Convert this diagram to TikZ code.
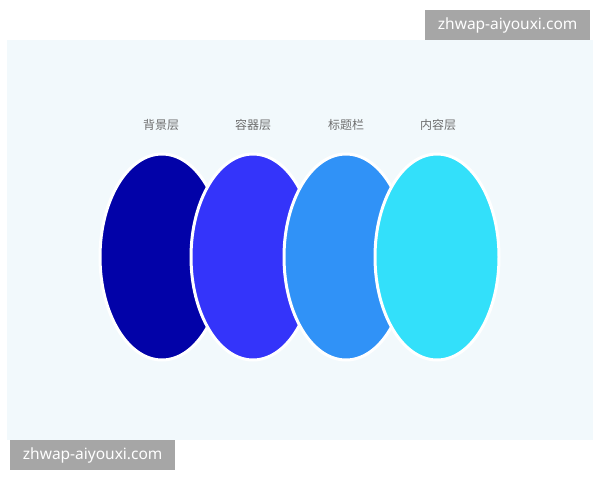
\documentclass[tikz,border=0pt]{standalone}
\usepackage{fontspec}
\setmainfont{Noto Sans}
\newfontfamily\cjk{Noto Sans CJK SC}
\usetikzlibrary{shapes.geometric}
\definecolor{panelbg}{HTML}{F2F9FC}
\definecolor{wmgray}{HTML}{A6A6A6}
\definecolor{labgray}{HTML}{6E6E6E}
\definecolor{cA}{HTML}{0202A8}
\definecolor{cB}{HTML}{3434FA}
\definecolor{cC}{HTML}{3092F7}
\definecolor{cD}{HTML}{33E0FA}
\tikzset{
  layer/.style={ellipse, inner sep=0pt, minimum width=124pt, minimum height=206pt, draw=white, line width=3pt},
  lab/.style={font=\cjk\fontsize{12}{14}\selectfont, text=labgray},
  wm/.style={fill=wmgray, text=white, font=\fontsize{15.5}{18}\selectfont, inner sep=0pt, minimum height=30pt, anchor=north west}
}
\begin{document}
\begin{tikzpicture}[x=1pt,y=-1pt]
\useasboundingbox (0,0) rectangle (600,480);
\fill[white] (0,0) rectangle (600,480);
\fill[panelbg] (7,40) rectangle (593,440);
\node[layer, fill=cA] (e1) at (162,257) {};
\node[layer, fill=cB] (e2) at (253,257) {};
\node[layer, fill=cC] (e3) at (346,257) {};
\node[layer, fill=cD] (e4) at (437,257) {};
\node[lab] (l1) at (161,125) {背景层};
\node[lab] (l2) at (253,125) {容器层};
\node[lab] (l3) at (346,125) {标题栏};
\node[lab] (l4) at (438,125) {内容层};
\node[wm, minimum width=165pt] (w1) at (425,10) {zhwap-aiyouxi.com};
\node[wm, minimum width=165pt] (w2) at (10,440) {zhwap-aiyouxi.com};
\end{tikzpicture}
\end{document}
